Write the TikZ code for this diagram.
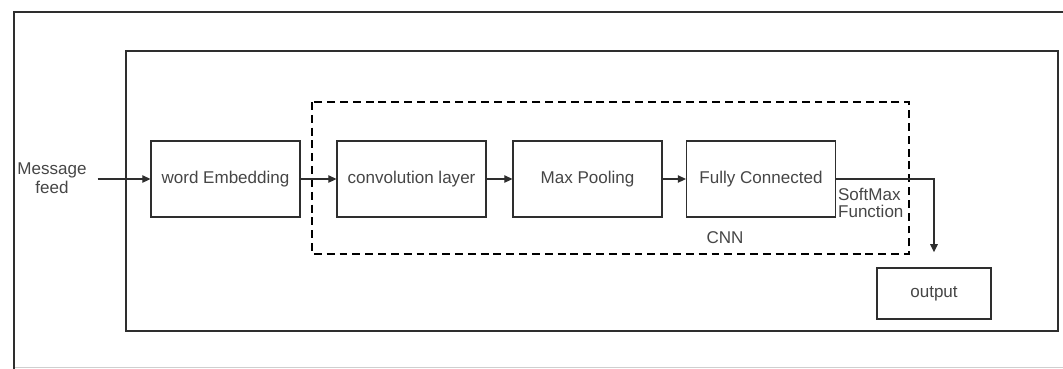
\documentclass[tikz,border=0pt]{standalone}
\usepackage{fontspec}
\setmainfont{Liberation Sans}
\usepackage{tikz}
\usetikzlibrary{arrows.meta,positioning}
\definecolor{lineg}{HTML}{2E2E2E}
\definecolor{textg}{HTML}{464646}
\definecolor{edgeg}{HTML}{CFCFCF}
\newcommand{\diagfont}{\fontsize{9.7}{11}\selectfont}
\tikzset{
  every picture/.append style={font=\diagfont},
  layer/.style   = {draw=lineg, line width=0.75pt, fill=white,
                    minimum width=2.98cm, minimum height=1.52cm,
                    inner sep=1pt, text=textg},
  outbox/.style  = {layer, line width=1.5pt,
                    minimum width=2.28cm, minimum height=1.02cm},
  lab/.style     = {text=textg, inner sep=1pt, align=center},
  flow/.style    = {-{Triangle[length=1.6mm, width=1.5mm]}, draw=lineg,
                    line width=0.7pt},
  frame/.style   = {draw=lineg, line width=1.2pt},
  cnnbox/.style  = {draw=black, line width=1.1pt,
                    dash pattern=on 4.5pt off 2.8pt},
}

\begin{document}
\begin{tikzpicture}[x=0.02cm, y=-0.02cm]
  \useasboundingbox (0,0) rectangle (1063,369);
  % frames
  \draw[edgeg, line width=0.8pt] (14,367.5) -- (1063,367.5);
  \draw[frame] (14,369) -- (14,12) -- (1063,12);
  \draw[frame] (126,51) rectangle (1058,331);
  \draw[cnnbox] (312,102) rectangle (909,254);

  % layers
  \node[lab] (msg) at (52,178) {Message\\[-0.5pt]feed};
  \node[layer] (emb) at (225.5,179) {word Embedding};
  \node[layer] (conv) at (411.5,179) {convolution layer};
  \node[layer] (pool) at (587.5,179) {Max Pooling};
  \node[layer] (fc) at (761,179) {Fully Connected};
  \node[outbox] (out) at (934,293.5) {output};
  \node[lab, anchor=west, align=left] (smax) at (836,203)
    {SoftMax\\[-1pt]Function};
  \node[lab] (cnn) at (725,238) {CNN};

  % connectors
  \draw[flow, shorten <=1.8mm] (msg.east |- emb.west) -- (emb);
  \draw[flow] (emb) -- (conv);
  \draw[flow] (conv) -- (pool);
  \draw[flow] (pool) -- (fc);
  \draw[flow, shorten >=2.9mm] (fc.east) -| (out.north);
\end{tikzpicture}
\end{document}
